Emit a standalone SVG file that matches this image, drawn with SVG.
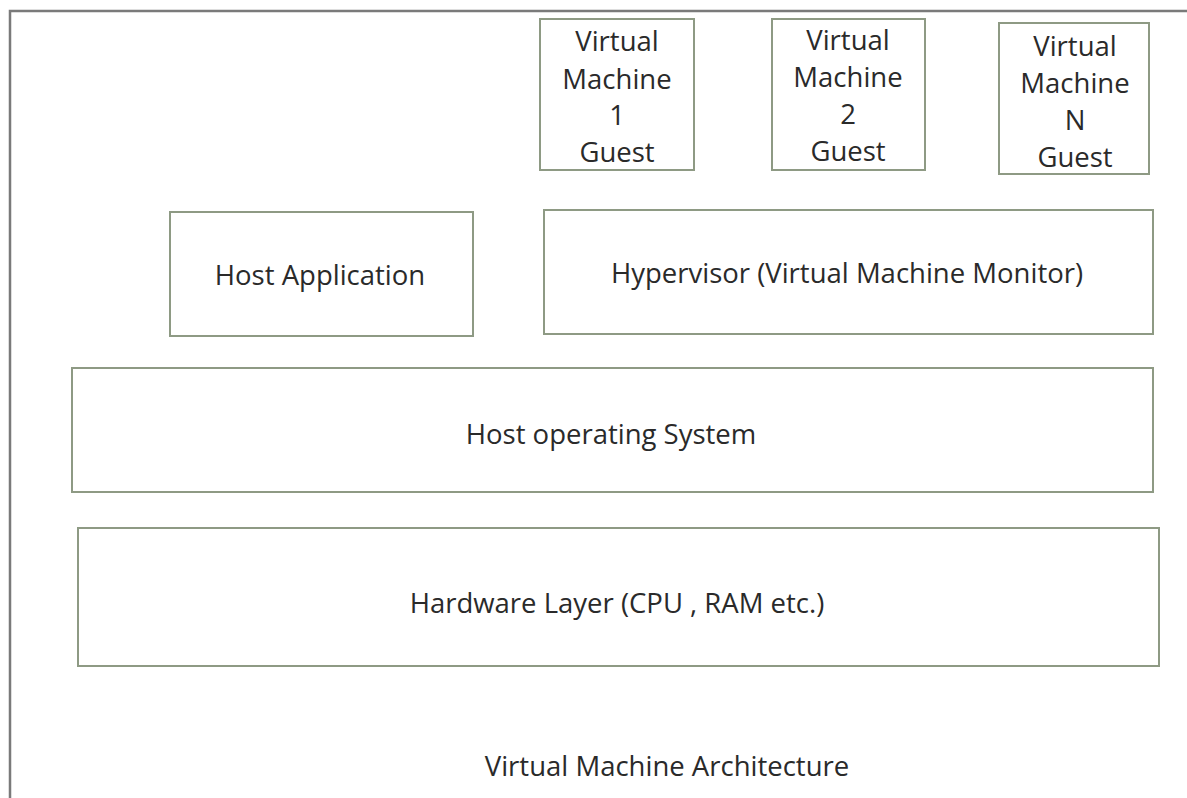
<svg xmlns="http://www.w3.org/2000/svg" width="1187" height="798" viewBox="0 0 1187 798">
<style>
.box{fill:#fff;stroke:#8e9a84;stroke-width:2}
.t{font-family:"Open Sans","Noto Sans",sans-serif;font-size:27.5px;fill:#2a2a2a;text-anchor:middle;dominant-baseline:central}
</style>
<rect width="1187" height="798" fill="#fff"/>
<path d="M1187 11 H10 V798" fill="none" stroke="#7a7a7a" stroke-width="2.5"/>
<g id="vm1"><rect class="box" x="540" y="19" width="154" height="151"/>
<text class="t" x="617" y="40">Virtual</text><text class="t" x="617" y="78">Machine</text><text class="t" x="617" y="114">1</text><text class="t" x="617" y="151">Guest</text></g>
<g id="vm2"><rect class="box" x="772" y="19" width="153" height="151"/>
<text class="t" x="848" y="39">Virtual</text><text class="t" x="848" y="76">Machine</text><text class="t" x="848" y="113">2</text><text class="t" x="848" y="150">Guest</text></g>
<g id="vmn"><rect class="box" x="999" y="23" width="150" height="151"/>
<text class="t" x="1075" y="45">Virtual</text><text class="t" x="1075" y="82">Machine</text><text class="t" x="1075" y="119">N</text><text class="t" x="1075" y="156">Guest</text></g>
<g id="hostapp"><rect class="box" x="170" y="212" width="303" height="124"/>
<text class="t" x="320" y="274">Host Application</text></g>
<g id="hypervisor"><rect class="box" x="544" y="210" width="609" height="124"/>
<text class="t" x="847" y="272">Hypervisor (Virtual Machine Monitor)</text></g>
<g id="hostos"><rect class="box" x="72" y="368" width="1081" height="124"/>
<text class="t" x="611" y="433">Host operating System</text></g>
<g id="hardware"><rect class="box" x="78" y="528" width="1081" height="138"/>
<text class="t" x="617" y="602">Hardware Layer (CPU , RAM etc.)</text></g>
<g id="caption"><text class="t" x="667" y="765">Virtual Machine Architecture</text></g>
<g id="connectors"></g>
</svg>
